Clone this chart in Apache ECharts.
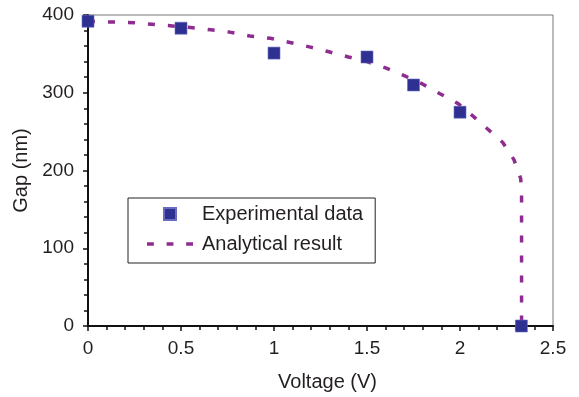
<!DOCTYPE html>
<html>
<head>
    <meta charset="utf-8">
    <title>Gap vs Voltage</title>
    <script src="https://cdn.jsdelivr.net/npm/echarts@6/dist/echarts.min.js"></script>
</head>
<body style="margin:0">
<div id="main" style="width:579px;height:397px;"></div>
<script type="text/javascript">
    // measured points
    var expVoltage = [0, 0.5, 1, 1.5, 1.75, 2, 2.33];
    var expGap = [392, 383, 351, 346, 310, 275, 0];
    // analytical curve
    var anaVoltage = [0, 0.25, 0.55, 0.66, 0.76, 0.87, 0.98, 1.08, 1.19, 1.29, 1.4, 1.5, 1.6, 1.7, 1.8, 1.89, 1.99, 2.07, 2.15, 2.23, 2.29, 2.326, 2.331, 2.331];
    var anaGap = [392, 390, 384, 381, 378, 373, 370, 365, 359, 353, 346, 340, 332, 322, 311, 299, 286, 270, 253, 236, 214, 190, 175, 0];

    var textColor = '#231f20';
    var font = 'Liberation Sans, Arial, sans-serif';
    var purple = '#8e2c8f';
    var navy = '#2e3192';

    function pairs(xs, ys) {
        return xs.map(function (x, i) { return [x, ys[i]]; });
    }

    var myChart = echarts.init(document.getElementById('main'));
    myChart.setOption({
        animation: false,
        textStyle: {fontFamily: font, color: textColor},
        grid: {
            left: 88, top: 15, right: 26, bottom: 71,
            show: true, borderColor: '#777', borderWidth: 1
        },
        legend: {
            orient: 'vertical',
            left: 128, top: 198,
            borderColor: '#222', borderWidth: 1,
            padding: [6, 12, 9, 19],
            itemWidth: 46, itemHeight: 12, itemGap: 10,
            textStyle: {fontSize: 20, color: textColor, fontFamily: font, padding: [0, 0, 0, 4]},
            data: [
                {name: 'Experimental data', icon: 'path://M0,0h10v10h-10z'},
                {name: 'Analytical result', icon: 'path://M0,0h7v3.5h-7z M20,0h7v3.5h-7z M40,0h7v3.5h-7z'}
            ]
        },
        xAxis: {
            type: 'value', min: 0, max: 2.5, interval: 0.5,
            name: 'Voltage (V)', nameLocation: 'middle', nameGap: 46,
            nameTextStyle: {fontSize: 20, color: textColor, padding: [0, 0, 0, 14]},
            axisLine: {onZero: false, lineStyle: {color: '#111', width: 2}},
            axisTick: {length: 5, lineStyle: {color: '#111', width: 1.5}},
            minorTick: {show: true, splitNumber: 5, length: 4, lineStyle: {color: '#111', width: 1.5}},
            axisLabel: {fontSize: 19, color: textColor, margin: 13},
            splitLine: {show: false}
        },
        yAxis: {
            type: 'value', min: 0, max: 400, interval: 100,
            name: 'Gap (nm)', nameLocation: 'middle', nameGap: 57,
            nameTextStyle: {fontSize: 20, color: textColor},
            axisLine: {show: true, onZero: false, lineStyle: {color: '#111', width: 2}},
            axisTick: {show: true, length: 5, lineStyle: {color: '#111', width: 1.5}},
            minorTick: {show: true, splitNumber: 5, length: 4, lineStyle: {color: '#111', width: 1.5}},
            axisLabel: {fontSize: 19, color: textColor, margin: 14},
            splitLine: {show: false}
        },
        series: [
            {
                name: 'Analytical result',
                type: 'line',
                data: pairs(anaVoltage, anaGap),
                showSymbol: false,
                symbol: 'none',
                z: 2,
                lineStyle: {color: purple, width: 3.5, type: [7, 13]},
                itemStyle: {color: purple}
            },
            {
                name: 'Experimental data',
                type: 'scatter',
                data: pairs(expVoltage, expGap),
                symbol: 'rect',
                symbolSize: 12,
                z: 3,
                itemStyle: {color: navy, opacity: 1, borderColor: '#6a6cc0', borderWidth: 0.6}
            }
        ]
    });
</script>
</body>
</html>
